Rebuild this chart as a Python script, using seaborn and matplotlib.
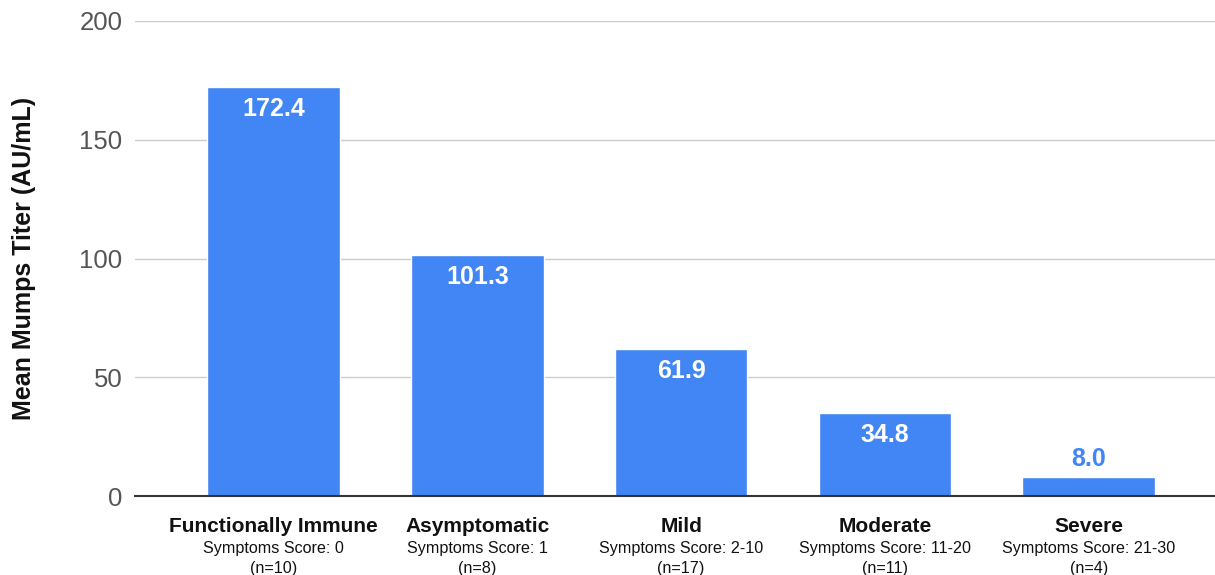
import matplotlib
matplotlib.use("Agg")
import matplotlib.pyplot as plt
import seaborn as sns
import pandas as pd
import matplotlib.transforms as mtransforms

categories = ["Functionally Immune", "Asymptomatic", "Mild", "Moderate", "Severe"]
scores = ["Symptoms Score: 0", "Symptoms Score: 1", "Symptoms Score: 2-10",
          "Symptoms Score: 11-20", "Symptoms Score: 21-30"]
counts = ["(n=10)", "(n=8)", "(n=17)", "(n=11)", "(n=4)"]
values = [172.4, 101.3, 61.9, 34.8, 8.0]
yticks = [0, 50, 100, 150, 200]

sns.set_theme(style="white")
plt.rcParams['font.family'] = ['Liberation Sans', 'DejaVu Sans']

BLUE = "#4285F4"
fig = plt.figure(figsize=(12.15, 5.75), dpi=100)
ax = fig.add_axes([135/1215, 1 - 496/575, 1 - 135/1215, (496 - 21)/575])

df = pd.DataFrame({"cat": categories, "val": values})
sns.barplot(data=df, x="cat", y="val", color=BLUE, saturation=1, width=0.65, ax=ax, zorder=3)

ax.set_ylim(0, 200)
ax.set_xlim(-0.68, 4.62)
ax.set_yticks(yticks)
ax.set_yticklabels([str(t) for t in yticks], fontsize=18.5, color="#555555")
ax.tick_params(axis="y", length=0, pad=9)
ax.tick_params(axis="x", length=0)
ax.set_xticks(range(len(categories)))
ax.set_xticklabels([""] * len(categories))
ax.set_xlabel("")
ax.set_ylabel("Mean Mumps Titer (AU/mL)", fontsize=18, fontweight="bold", color="#111111")
ax.yaxis.set_label_coords(-0.092, 0.5)

for s in ["top", "right", "left"]:
    ax.spines[s].set_visible(False)
ax.spines["bottom"].set_color("#333333")
ax.spines["bottom"].set_linewidth(1.5)
ax.spines["bottom"].set_zorder(5)
ax.yaxis.grid(True, color="#cccccc", linewidth=1)
ax.set_axisbelow(True)

for i, v in enumerate(values):
    if v > 20:
        ax.annotate(f"{v:.1f}", (i, v), xytext=(0, -22), textcoords="offset pixels",
                    ha="center", va="center", color="white", fontsize=18, fontweight="bold", zorder=6)
    else:
        ax.annotate(f"{v:.1f}", (i, v), xytext=(0, 18), textcoords="offset pixels",
                    ha="center", va="center", color=BLUE, fontsize=18, fontweight="bold", zorder=6)

trans = mtransforms.blended_transform_factory(ax.transData, fig.transFigure)
for i in range(len(categories)):
    ax.text(i, 1 - 526/575, categories[i], transform=trans, ha="center", va="center",
            fontsize=15, fontweight="bold", color="#111111")
    ax.text(i, 1 - 549/575, scores[i], transform=trans, ha="center", va="center",
            fontsize=11.6, color="#111111")
    ax.text(i, 1 - 568/575, counts[i], transform=trans, ha="center", va="center",
            fontsize=11.6, color="#111111")

fig.savefig("out.png", dpi=100)
